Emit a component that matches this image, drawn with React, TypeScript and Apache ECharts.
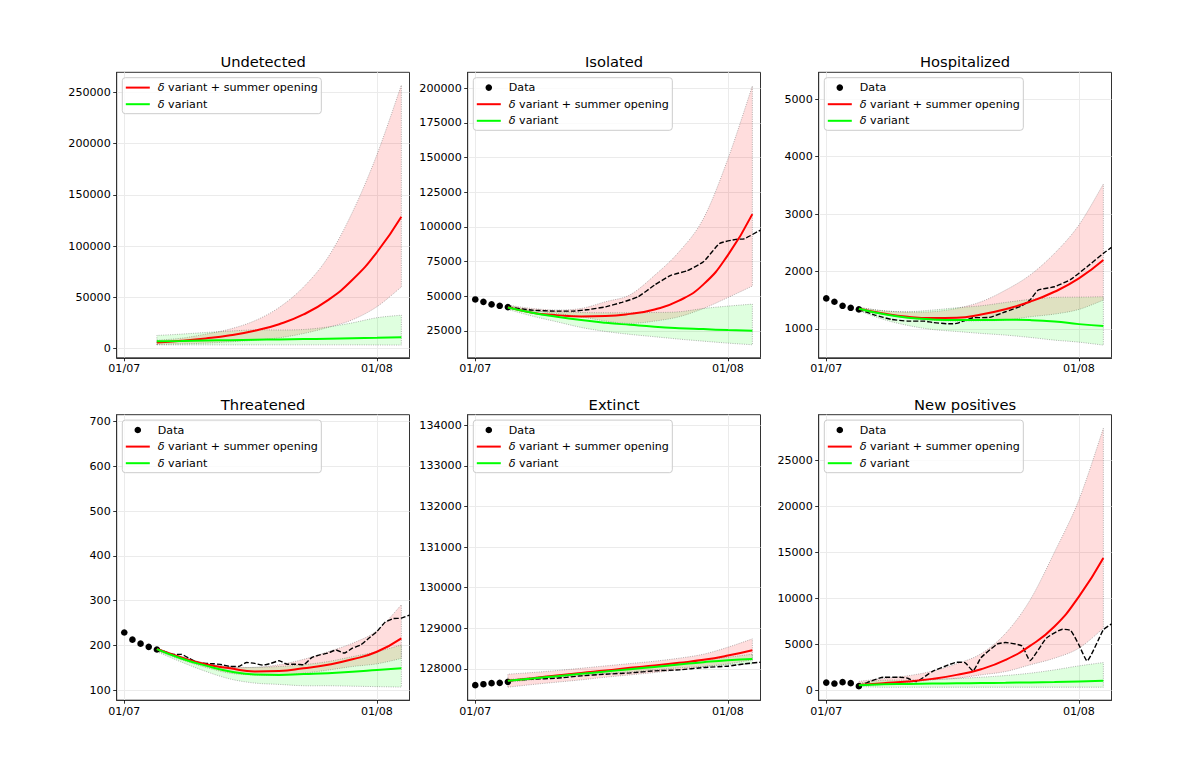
import React, { useEffect, useRef } from "react";
import * as echarts from "echarts";

const FONT = "'DejaVu Sans', sans-serif";
const RED_NAME = "δ variant + summer opening";
const GREEN_NAME = "δ variant";
const DATA_NAME = "Data";
const LINE_ICON = "path://M0,0H24V2H0Z";
const dateTickDays = [0, 31];
const dateTickLabels = ["01/07", "01/08"];
const dotDays = [0, 1, 2, 3, 4];
const modelDays = [4, 7, 10, 13, 16, 19, 22, 25, 28, 31, 34];

// Undetected
const undetectedTicks = [0, 50000, 100000, 150000, 200000, 250000];
const undetectedRed = [5800, 7500, 9800, 12900, 17300, 23700, 33200, 47200, 67000, 93900, 128600];
const undetectedRedHi = [8000, 10000, 14000, 19000, 27000, 40000, 60000, 89000, 133000, 189000, 257000];
const undetectedRedLo = [3900, 4500, 5200, 6500, 8000, 10400, 14600, 20500, 28000, 40700, 60000];
const undetectedGreen = [7100, 7400, 7800, 8100, 8500, 8800, 9200, 9500, 9900, 10400, 11000];
const undetectedGreenHi = [12700, 14000, 15600, 17000, 18200, 18000, 18500, 21000, 25000, 30000, 32500];
const undetectedGreenLo = [3500, 3500, 3500, 3500, 3500, 3500, 3500, 3500, 3500, 3400, 3300];

// Isolated
const isolatedTicks = [25000, 50000, 75000, 100000, 125000, 150000, 175000, 200000];
const isolatedDots = [47600, 45900, 44000, 43050, 42100];
const isolatedRed = [42000, 38000, 36300, 35350, 35600, 37200, 40400, 46700, 58500, 79600, 109200];
const isolatedRedHi = [43500, 41100, 40000, 41100, 46000, 51000, 65000, 82000, 106000, 149000, 201700];
const isolatedRedLo = [40900, 39400, 37500, 35100, 32000, 30300, 32000, 35100, 41100, 49000, 57250];
const isolatedGreen = [41850, 38000, 35100, 32700, 30800, 29300, 27900, 26900, 26200, 25500, 25000];
const isolatedGreenHi = [43500, 39400, 38700, 38200, 38000, 38000, 38200, 38700, 41100, 42800, 44250];
const isolatedGreenLo = [40400, 35600, 31500, 27400, 24500, 22400, 20700, 19000, 17500, 16100, 14900];
const isolatedObsDays = [4, 7, 10, 12, 14, 16, 18, 20, 22, 24, 26, 28, 30, 32, 33, 35];
const isolatedObs = [42100, 39900, 39200, 39200, 40400, 42300, 45500, 49600, 58000, 65000, 68300, 74800, 88100, 91000, 91400, 97700];

// Hospitalized
const hospitalizedTicks = [1000, 2000, 3000, 4000, 5000];
const hospitalizedDots = [1529, 1471, 1401, 1366, 1337];
const hospitalizedRed = [1350, 1267, 1209, 1186, 1192, 1250, 1343, 1471, 1645, 1878, 2198];
const hospitalizedRedHi = [1372, 1314, 1291, 1297, 1355, 1471, 1674, 1936, 2314, 2808, 3523];
const hospitalizedRedLo = [1325, 1256, 1192, 1151, 1134, 1140, 1151, 1209, 1256, 1337, 1500];
const hospitalizedGreen = [1350, 1256, 1192, 1163, 1151, 1151, 1157, 1151, 1128, 1081, 1047];
const hospitalizedGreenHi = [1372, 1314, 1297, 1326, 1366, 1401, 1459, 1512, 1547, 1552, 1558];
const hospitalizedGreenLo = [1314, 1163, 1058, 988, 953, 919, 890, 849, 802, 767, 715];
const hospitalizedObsDays = [4, 6, 8, 10, 12, 13, 15, 16, 18, 20, 22, 24, 25, 26, 28, 30, 32, 34, 35];
const hospitalizedObs = [1337, 1238, 1163, 1134, 1134, 1110, 1087, 1093, 1192, 1198, 1297, 1401, 1500, 1674, 1733, 1860, 2081, 2314, 2419];

// Threatened
const threatenedTicks = [100, 200, 300, 400, 500, 600, 700];
const threatenedDots = [229, 213, 204, 197, 191];
const threatenedRed = [192, 173, 158, 149, 142, 143, 149, 157, 169, 186, 216];
const threatenedRedHi = [194, 175, 160, 153, 151, 157, 169, 186, 205, 233, 291];
const threatenedRedLo = [188, 168, 151, 138, 134, 134, 138, 145, 153, 159, 171];
const threatenedGreen = [192, 171, 155, 142, 135, 134, 136, 138, 141, 145, 149];
const threatenedGreenHi = [194, 175, 160, 151, 151, 153, 157, 164, 175, 186, 201];
const threatenedGreenLo = [186, 163, 142, 125, 116, 113, 110, 110, 109, 108, 107];
const threatenedObsDays = [4, 5, 6, 7, 8, 9, 10, 11, 12, 13, 14, 15, 16, 17, 18, 19, 20, 21, 22, 23, 24, 25, 26, 27, 28, 29, 30, 31, 32, 33, 34, 35];
const threatenedObs = [192, 186, 180, 180, 171, 162, 160, 159, 157, 153, 153, 162, 160, 156, 160, 166, 158, 158, 157, 173, 179, 183, 190, 183, 194, 201, 216, 231, 252, 260, 261, 268];

// Extinct
const extinctTicks = [128000, 129000, 130000, 131000, 132000, 133000, 134000];
const extinctDots = [127598, 127622, 127647, 127655, 127680];
const extinctRed = [127705, 127770, 127836, 127901, 127959, 128025, 128082, 128148, 128222, 128328, 128460];
const extinctRedHi = [127869, 127910, 127959, 128016, 128074, 128131, 128189, 128263, 128361, 128534, 128739];
const extinctRedLo = [127549, 127614, 127672, 127729, 127795, 127852, 127910, 127975, 128057, 128123, 128222];
const extinctGreen = [127705, 127762, 127820, 127877, 127934, 127992, 128049, 128107, 128164, 128213, 128246];
const extinctGreenHi = [127737, 127787, 127844, 127901, 127959, 128016, 128082, 128148, 128222, 128287, 128361];
const extinctGreenLo = [127672, 127729, 127787, 127836, 127885, 127926, 127975, 128025, 128057, 128098, 128123];
const extinctObsDays = [4, 7, 10, 13, 16, 19, 22, 25, 28, 31, 33, 35];
const extinctObs = [127705, 127746, 127770, 127828, 127869, 127901, 127951, 127975, 128033, 128066, 128123, 128164];

// New positives
const positivesTicks = [0, 5000, 10000, 15000, 20000, 25000];
const positivesDots = [867, 759, 903, 795, 470];
const positivesRed = [614, 795, 976, 1265, 1698, 2312, 3324, 4841, 6937, 10189, 14380];
const positivesRedHi = [1000, 1300, 1600, 2100, 2900, 4000, 6200, 9800, 15000, 20666, 28434];
const positivesRedLo = [540, 650, 867, 1156, 1337, 1698, 2059, 2782, 3505, 4589, 6756];
const positivesGreen = [578, 690, 720, 750, 780, 810, 840, 880, 920, 980, 1048];
const positivesGreenHi = [795, 1120, 1120, 1192, 1300, 1445, 1626, 1879, 2240, 2674, 3035];
const positivesGreenLo = [430, 360, 360, 360, 360, 360, 360, 360, 360, 360, 360];
const positivesObsDays = [4, 5, 7, 9, 10, 11, 13, 15, 16, 17, 18, 19, 21, 22, 24, 25, 27, 29, 30, 31, 32, 34, 35];
const positivesObs = [470, 867, 1445, 1445, 1337, 976, 2059, 2782, 3071, 3035, 2132, 3577, 5058, 5203, 4841, 3252, 5672, 6648, 6503, 4950, 3216, 6576, 7226];

const panels = [
  { title: "Undetected", ticks: undetectedTicks, min: -9115, max: 269530, col: 0, row: 0, red: undetectedRed, redHi: undetectedRedHi, redLo: undetectedRedLo, green: undetectedGreen, greenHi: undetectedGreenHi, greenLo: undetectedGreenLo },
  { title: "Isolated", ticks: isolatedTicks, min: 5502, max: 211554, col: 1, row: 0, dots: isolatedDots, obsDays: isolatedObsDays, obs: isolatedObs, red: isolatedRed, redHi: isolatedRedHi, redLo: isolatedRedLo, green: isolatedGreen, greenHi: isolatedGreenHi, greenLo: isolatedGreenLo },
  { title: "Hospitalized", ticks: hospitalizedTicks, min: 494, max: 5471, col: 2, row: 0, dots: hospitalizedDots, obsDays: hospitalizedObsDays, obs: hospitalizedObs, red: hospitalizedRed, redHi: hospitalizedRedHi, redLo: hospitalizedRedLo, green: hospitalizedGreen, greenHi: hospitalizedGreenHi, greenLo: hospitalizedGreenLo },
  { title: "Threatened", ticks: threatenedTicks, min: 77.7, max: 715.6, col: 0, row: 1, dots: threatenedDots, obsDays: threatenedObsDays, obs: threatenedObs, red: threatenedRed, redHi: threatenedRedHi, redLo: threatenedRedLo, green: threatenedGreen, greenHi: threatenedGreenHi, greenLo: threatenedGreenLo },
  { title: "Extinct", ticks: extinctTicks, min: 127228, max: 134263, col: 1, row: 1, dots: extinctDots, obsDays: extinctObsDays, obs: extinctObs, red: extinctRed, redHi: extinctRedHi, redLo: extinctRedLo, green: extinctGreen, greenHi: extinctGreenHi, greenLo: extinctGreenLo },
  { title: "New positives", ticks: positivesTicks, min: -1048, max: 29913, col: 2, row: 1, dots: positivesDots, obsDays: positivesObsDays, obs: positivesObs, red: positivesRed, redHi: positivesRedHi, redLo: positivesRedLo, green: positivesGreen, greenHi: positivesGreenHi, greenLo: positivesGreenLo },
];

const colLeft = [116.7, 467.7, 818.7];
const rowTop = [72.3, 414.7];
const PANEL_W = 292.8;
const PANEL_H = 285.5;
const EDGE = "rgba(70,70,70,0.5)";

// Catmull-Rom through screen points, so that a band's outline is a curve.
function curve(pts: number[][], steps = 6) {
  const out: number[][] = [];
  for (let i = 0; i < pts.length - 1; i++) {
    const p0 = pts[Math.max(i - 1, 0)];
    const p1 = pts[i];
    const p2 = pts[i + 1];
    const p3 = pts[Math.min(i + 2, pts.length - 1)];
    for (let s = 0; s < steps; s++) {
      const t = s / steps;
      const t2 = t * t;
      const t3 = t2 * t;
      out.push([0, 1].map((k) => 0.5 * (2 * p1[k] + (p2[k] - p0[k]) * t + (2 * p0[k] - 5 * p1[k] + 4 * p2[k] - p3[k]) * t2 + (3 * p1[k] - p0[k] - 3 * p2[k] + p3[k]) * t3)));
    }
  }
  out.push(pts[pts.length - 1]);
  return out;
}

function bandSeries(i: number, key: string, lo: number[], hi: number[], fill: string) {
  return {
    type: "custom",
    name: `${key} ${i}`,
    xAxisIndex: i,
    yAxisIndex: i,
    z: 1,
    silent: true,
    encode: { x: 0, y: [1, 2] },
    data: modelDays.map((d, k) => [d, lo[k], hi[k]]),
    renderItem: (params: any, api: any) => {
      if (params.dataIndex !== 0) return null;
      const lower = curve(modelDays.map((d, k) => api.coord([d, lo[k]])));
      const upper = curve(modelDays.map((d, k) => api.coord([d, hi[k]])));
      return {
        type: "polygon",
        shape: { points: [...lower, ...upper.reverse()] },
        style: { fill, stroke: EDGE, lineWidth: 0.8, lineDash: [1, 1.3] },
      };
    },
  };
}

function buildOption() {
  const series: any[] = [];
  panels.forEach((p: any, i) => {
    series.push(bandSeries(i, "red band", p.redLo, p.redHi, "rgba(255,0,0,0.135)"));
    series.push(bandSeries(i, "green band", p.greenLo, p.greenHi, "rgba(0,255,0,0.125)"));
    if (p.dots) {
      series.push({ type: "scatter", name: DATA_NAME, xAxisIndex: i, yAxisIndex: i, symbolSize: 6.6, itemStyle: { color: "#000", opacity: 1 }, z: 2, data: dotDays.map((d, k) => [d, p.dots[k]]) });
      series.push({ type: "line", name: `Observed ${i}`, xAxisIndex: i, yAxisIndex: i, symbol: "none", smooth: 0.15, z: 3, lineStyle: { color: "#000", width: 1.4, type: [5, 2] }, data: p.obsDays.map((d: number, k: number) => [d, p.obs[k]]) });
    }
    series.push({ type: "line", name: RED_NAME, xAxisIndex: i, yAxisIndex: i, symbol: "none", smooth: 0.5, z: 4, lineStyle: { color: "#ff0000", width: 2 }, itemStyle: { color: "#ff0000" }, data: modelDays.map((d, k) => [d, p.red[k]]) });
    series.push({ type: "line", name: GREEN_NAME, xAxisIndex: i, yAxisIndex: i, symbol: "none", smooth: 0.5, z: 5, lineStyle: { color: "#00ff00", width: 2 }, itemStyle: { color: "#00ff00" }, data: modelDays.map((d, k) => [d, p.green[k]]) });
  });

  return {
    animation: false,
    backgroundColor: "#fff",
    textStyle: { fontFamily: FONT },
    title: panels.map((p) => ({
      text: p.title,
      left: colLeft[p.col] + PANEL_W / 2,
      top: rowTop[p.row] - 18.2,
      textAlign: "center",
      textStyle: { fontFamily: FONT, fontSize: 14.7, fontWeight: "normal", color: "#000" },
      padding: 0,
    })),
    grid: panels.map((p) => ({
      left: colLeft[p.col],
      top: rowTop[p.row],
      width: PANEL_W,
      height: PANEL_H,
      show: true,
      borderColor: "#333",
      borderWidth: 1,
      containLabel: false,
    })),
    xAxis: panels.map((_, i) => ({
      type: "value",
      gridIndex: i,
      min: -0.93,
      max: 35,
      axisLine: { show: true, onZero: false, lineStyle: { color: "#333", width: 1 } },
      axisTick: { show: true, length: 3.5, customValues: dateTickDays, lineStyle: { color: "#000", width: 0.8 } },
      axisLabel: {
        customValues: dateTickDays,
        margin: 5.5,
        fontFamily: FONT,
        fontSize: 11.1,
        color: "#000",
        formatter: (v: number) => dateTickLabels[dateTickDays.indexOf(v)] ?? "",
      },
      splitLine: { show: true, lineStyle: { color: "#ebebeb", width: 1 } },
    })),
    yAxis: panels.map((p, i) => ({
      type: "value",
      gridIndex: i,
      min: p.min,
      max: p.max,
      axisLine: { show: true, onZero: false, lineStyle: { color: "#333", width: 1 } },
      axisTick: { show: true, length: 3.5, customValues: p.ticks, lineStyle: { color: "#000", width: 0.8 } },
      axisLabel: {
        customValues: p.ticks,
        margin: 6,
        fontFamily: FONT,
        fontSize: 11.1,
        color: "#000",
        formatter: (v: number) => String(v),
      },
      splitLine: { show: true, lineStyle: { color: "#ebebeb", width: 1 } },
    })),
    legend: panels.map((p: any) => ({
      data: [
        ...(p.dots ? [{ name: DATA_NAME, icon: "circle" }] : []),
        { name: RED_NAME, icon: LINE_ICON },
        { name: GREEN_NAME, icon: LINE_ICON },
      ],
      orient: "vertical",
      left: colLeft[p.col] + 5.6,
      top: rowTop[p.row] + 5.4,
      align: "left",
      itemWidth: 24,
      itemHeight: 6.6,
      itemGap: 5.6,
      padding: [4.4, 3.5, 4, 3.5],
      backgroundColor: "rgba(255,255,255,0.8)",
      borderColor: "#ccc",
      borderWidth: 1,
      borderRadius: 3,
      selectedMode: false,
      formatter: (name: string) => name.replace("δ", "{i|δ}"),
      textStyle: {
        fontFamily: FONT,
        fontSize: 11.1,
        color: "#000",
        padding: [0, 0, 0, 3],
        rich: { i: { fontFamily: FONT, fontSize: 11.1, fontStyle: "italic", color: "#000" } },
      },
    })),
    series,
  };
}

export default function App() {
  const ref = useRef<HTMLDivElement>(null);
  useEffect(() => {
    const chart = echarts.init(ref.current!, undefined, { renderer: "svg" });
    chart.setOption(buildOption() as any);
    return () => chart.dispose();
  }, []);
  return <div ref={ref} style={{ position: "absolute", left: 0, top: 0, width: 1196, height: 765 }} />;
}
